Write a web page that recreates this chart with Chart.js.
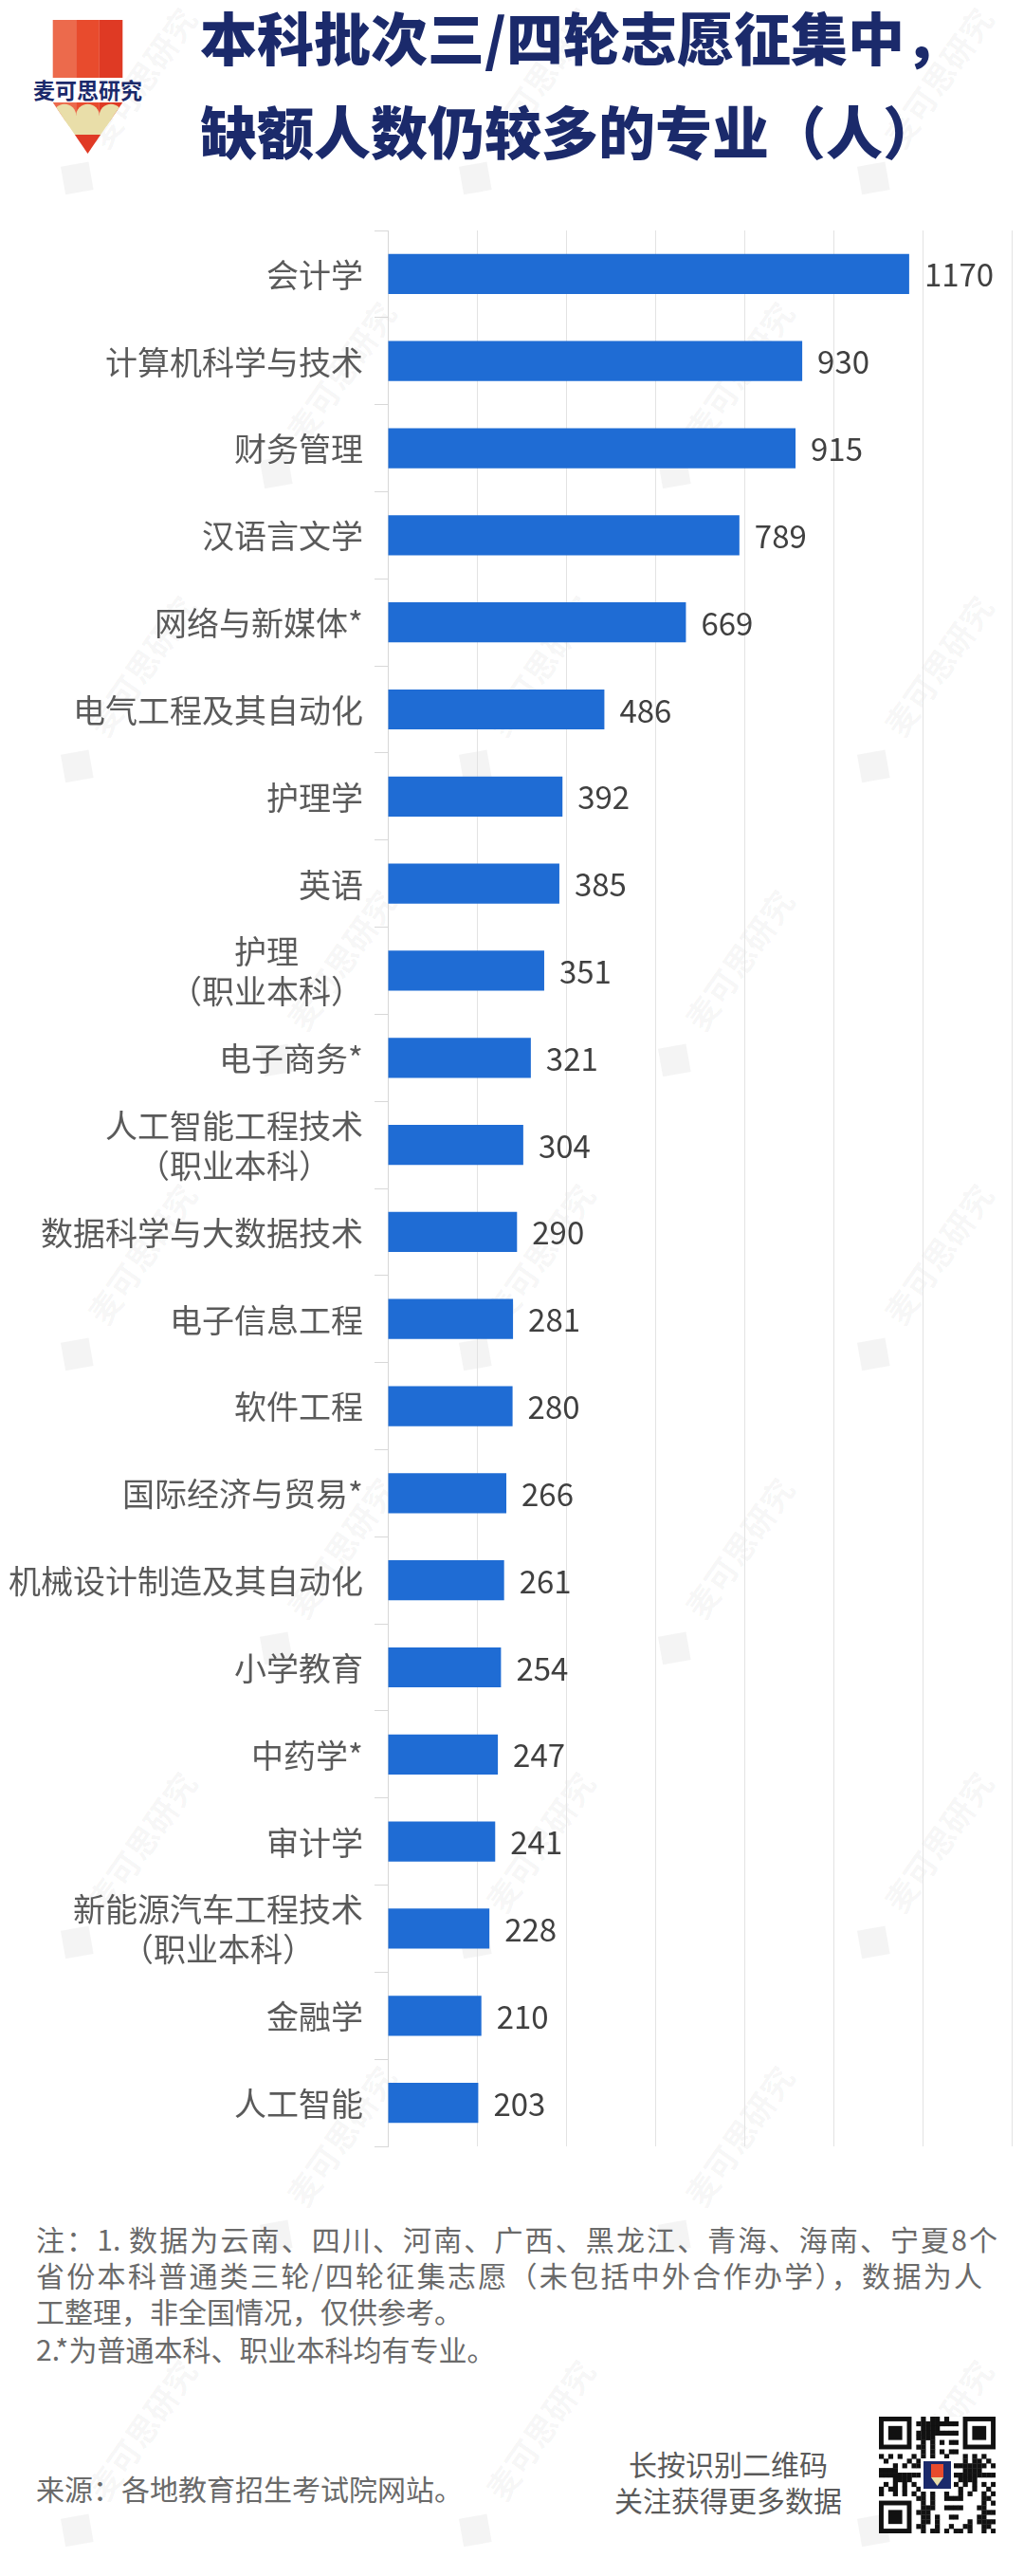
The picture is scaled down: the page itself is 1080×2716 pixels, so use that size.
<!DOCTYPE html>
<html>
<head>
<meta charset="utf-8">
<script src="https://cdn.jsdelivr.net/npm/chart.js@4"></script>
<style>
html,body{margin:0;padding:0;background:#fff;}
body{width:1080px;height:2716px;position:relative;overflow:hidden;font-family:"Noto Sans CJK SC","Noto Sans",sans-serif;}
.abs{position:absolute;white-space:nowrap;}
.t{left:211px;font-size:60px;line-height:60px;font-weight:900;color:#1b2a6b;}
.n{left:38px;font-size:30px;line-height:30px;color:#6a6a6a;}
.j{text-align:justify;text-align-last:justify;white-space:normal;}
.q{left:568px;width:400px;text-align:center;font-size:30px;line-height:30px;color:#5a5a5a;}
.wm{position:absolute;color:rgba(0,0,0,0.045);font-size:34px;font-weight:700;transform:rotate(-55deg);transform-origin:center;white-space:nowrap;}
.wm i{display:inline-block;width:30px;height:30px;background:currentColor;transform:rotate(45deg);margin-right:26px;vertical-align:middle;}
#chartWrap{position:absolute;left:0;top:200px;width:1080px;height:2100px;}
</style>
</head>
<body>
<div id="wms"></div>

<svg class="abs" style="left:0;top:0" width="200" height="180" viewBox="0 0 200 180">
  <defs>
    <clipPath id="tri"><polygon points="55.7,108 129.3,108 92.5,162"/></clipPath>
  </defs>
  <rect x="55.7" y="21" width="24.6" height="61" fill="#ec6a4c"/>
  <rect x="80.2" y="21" width="24.6" height="61" fill="#e84b2d"/>
  <rect x="104.7" y="21" width="24.6" height="61" fill="#df3a24"/>
  <text x="92.5" y="104" text-anchor="middle" font-family="Noto Sans CJK SC" font-size="23" font-weight="700" fill="#1b2a6b">麦可思研究</text>
  <g clip-path="url(#tri)">
    <rect x="55.7" y="108" width="24.6" height="20" fill="#ec6a4c"/>
    <rect x="80.2" y="108" width="24.6" height="20" fill="#e84b2d"/>
    <rect x="104.7" y="108" width="24.6" height="20" fill="#df3a24"/>
    <circle cx="68" cy="122" r="12.3" fill="#e9dea9"/>
    <circle cx="92.5" cy="122" r="12.3" fill="#e9dea9"/>
    <circle cx="117" cy="122" r="12.3" fill="#e9dea9"/>
    <rect x="50" y="122" width="90" height="20" fill="#e9dea9"/>
    <rect x="50" y="142" width="90" height="25" fill="#e03a25"/>
  </g>
</svg>

<div class="abs t" style="top:8px;">本科批次三/四轮志愿征集中，</div>
<div class="abs t" style="top:107px;">缺额人数仍较多的专业（人）</div>

<div id="chartWrap"><canvas id="c" width="1080" height="2100" style="width:1080px;height:2100px;"></canvas></div>

<div class="abs n j" style="top:2345px;width:1014px;">注：1. 数据为云南、四川、河南、广西、黑龙江、青海、海南、宁夏8个</div>
<div class="abs n j" style="top:2383px;width:998px;">省份本科普通类三轮/四轮征集志愿（未包括中外合作办学），数据为人</div>
<div class="abs n" style="top:2421px;">工整理，非全国情况，仅供参考。</div>
<div class="abs n" style="top:2461px;">2.*为普通本科、职业本科均有专业。</div>
<div class="abs n" style="top:2608px;">来源：各地教育招生考试院网站。</div>

<div class="abs q" style="top:2582px;">长按识别二维码</div>
<div class="abs q" style="top:2620px;">关注获得更多数据</div>
<canvas id="qr" class="abs" style="left:927px;top:2548px;" width="123" height="123"></canvas>

<script>
// ---- data ----
const categories = [
  "会计学", "计算机科学与技术", "财务管理", "汉语言文学", "网络与新媒体*",
  "电气工程及其自动化", "护理学", "英语", ["护理", "（职业本科）"], "电子商务*",
  ["人工智能工程技术", "（职业本科）"], "数据科学与大数据技术", "电子信息工程", "软件工程",
  "国际经济与贸易*", "机械设计制造及其自动化", "小学教育", "中药学*", "审计学",
  ["新能源汽车工程技术", "（职业本科）"], "金融学", "人工智能"
];
const values = [1170, 930, 915, 789, 669, 486, 392, 385, 351, 321, 304, 290, 281, 280, 266, 261, 254, 247, 241, 228, 210, 203];
const axisMin = 0;
const axisMax = 1400;
const axisStep = 200;

// ---- watermarks (decoration) ----
(function(){
  const host = document.getElementById('wms');
  for (let r = 0; r < 9; r++) {
    for (let c = 0; c < 3; c++) {
      const d = document.createElement('div');
      d.className = 'wm';
      d.innerHTML = '<i></i>麦可思研究';
      const x = 20 + c * 420 + (r % 2) * 210;
      const y = 80 + r * 310;
      d.style.left = x + 'px';
      d.style.top = y + 'px';
      host.appendChild(d);
    }
  }
})();

// ---- QR-like decoration ----
(function(){
  const cv = document.getElementById('qr'); const g = cv.getContext('2d');
  const n = 25, m = 123 / n;
  g.fillStyle = '#fff'; g.fillRect(0,0,123,123);
  g.fillStyle = '#111';
  function finder(ox, oy){
    g.fillRect(ox*m, oy*m, 7*m, 7*m);
    g.fillStyle = '#fff'; g.fillRect((ox+1)*m, (oy+1)*m, 5*m, 5*m);
    g.fillStyle = '#111'; g.fillRect((ox+2)*m, (oy+2)*m, 3*m, 3*m);
  }
  for (let i = 0; i < n; i++) for (let j = 0; j < n; j++) {
    const inF = (i < 8 && j < 8) || (i < 8 && j > n-9) || (i > n-9 && j < 8);
    if (inF) continue;
    const h = (i * 73 + j * 151 + i * j * 29 + (i ^ j) * 7) % 11;
    if (h < 5) g.fillRect(j*m, i*m, m+0.3, m+0.3);
  }
  finder(0,0); finder(n-7,0); finder(0,n-7);
  g.fillStyle = '#fff'; g.fillRect(44, 44, 35, 35);
  g.fillStyle = '#1b2a6b'; g.fillRect(47, 47, 29, 29);
  g.fillStyle = '#e84b2d'; g.fillRect(55, 50, 13, 14);
  g.fillStyle = '#e9dea9'; g.beginPath(); g.moveTo(55,64); g.lineTo(68,64); g.lineTo(61.5,73); g.closePath(); g.fill();
})();

// ---- chart ----
const labelPlugin = {
  id: 'customLabels',
  afterDatasetsDraw(chart) {
    const ctx = chart.ctx;
    const yScale = chart.scales.y;
    const meta = chart.getDatasetMeta(0);
    ctx.save();
    ctx.textBaseline = 'middle';
    ctx.font = '33px "Noto Sans CJK SC"';
    ctx.fillStyle = '#404040';
    ctx.textAlign = 'left';
    meta.data.forEach((bar, i) => {
      ctx.fillText(String(values[i]), bar.x + 16, bar.y + 1);
    });
    ctx.font = '34px "Noto Sans CJK SC"';
    ctx.fillStyle = '#5a5a5a';
    ctx.textAlign = 'center';
    const right = chart.chartArea.left - 26;
    categories.forEach((c, i) => {
      const lines = Array.isArray(c) ? c : [c];
      const w = Math.max(...lines.map(l => ctx.measureText(l).width));
      const cx = right - w / 2;
      const cy = yScale.getPixelForValue(i);
      const lh = 42;
      lines.forEach((l, k) => ctx.fillText(l, cx, cy + 1 + (k - (lines.length - 1) / 2) * lh));
    });
    ctx.restore();
  }
};

new Chart(document.getElementById('c'), {
  type: 'bar',
  data: {
    labels: categories,
    datasets: [{
      data: values,
      backgroundColor: '#1f6cd4',
      borderWidth: 0,
      barPercentage: 0.46,
      categoryPercentage: 1.0
    }]
  },
  options: {
    indexAxis: 'y',
    responsive: false,
    maintainAspectRatio: false,
    animation: false,
    layout: { padding: { top: 43, bottom: 37, left: 395, right: 13 } },
    plugins: { legend: { display: false }, tooltip: { enabled: false } },
    scales: {
      x: {
        min: axisMin, max: axisMax,
        ticks: { display: false, stepSize: axisStep },
        grid: { color: '#e3e3e3', lineWidth: 1, drawTicks: false },
        border: { display: false }
      },
      y: {
        ticks: { display: false },
        grid: { drawOnChartArea: false, drawTicks: true, tickLength: 14, color: '#d8d8d8', lineWidth: 1 },
        border: { display: true, color: '#d8d8d8', width: 1 }
      }
    }
  },
  plugins: [labelPlugin]
});
</script>
</body>
</html>
